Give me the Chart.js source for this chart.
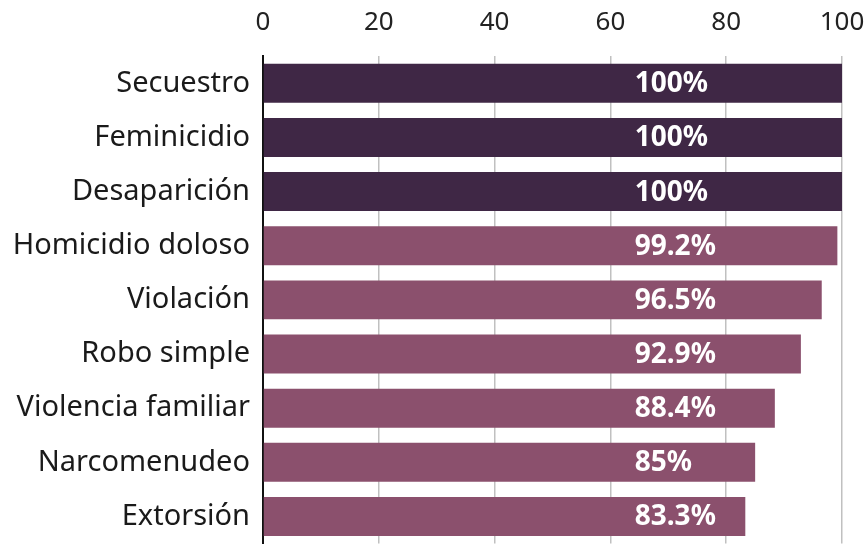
<!DOCTYPE html>
<html>
<head>
<meta charset="utf-8">
<script src="https://cdn.jsdelivr.net/npm/chart.js@4"></script>
<style>
  html, body { margin: 0; padding: 0; background: #fff; }
  #wrap { width: 866px; height: 545px; }
</style>
</head>
<body>
<div id="wrap"><canvas id="chart"></canvas></div>
<script>
const categories = [
  'Secuestro',
  'Feminicidio',
  'Desaparición',
  'Homicidio doloso',
  'Violación',
  'Robo simple',
  'Violencia familiar',
  'Narcomenudeo',
  'Extorsión',
];
const values = [100, 100, 100, 99.2, 96.5, 92.9, 88.4, 85, 83.3];
const xTicks = [0, 20, 40, 60, 80, 100];

const dark = '#3f2745';
const mauve = '#8b506d';
const labelAt = 64.2; // value position where the % labels start

const fontFamily = '"Noto Sans", sans-serif';

const barLabels = {
  id: 'barLabels',
  afterDatasetsDraw(chart) {
    const { ctx, scales: { x } } = chart;
    const meta = chart.getDatasetMeta(0);
    ctx.save();
    ctx.fillStyle = '#fff';
    ctx.font = `bold 28px ${fontFamily}`;
    ctx.textAlign = 'left';
    ctx.textBaseline = 'middle';
    meta.data.forEach((bar, i) => {
      ctx.fillText(`${values[i]}%`, x.getPixelForValue(labelAt), bar.y + 1);
    });
    ctx.restore();
  },
};

new Chart(document.getElementById('chart'), {
  type: 'bar',
  data: {
    labels: categories,
    datasets: [
      {
        data: values,
        backgroundColor: (c) => (c.raw === 100 ? dark : mauve),
        borderWidth: 0,
        categoryPercentage: 1,
        barPercentage: 0.72,
      },
    ],
  },
  options: {
    indexAxis: 'y',
    responsive: true,
    maintainAspectRatio: false,
    animation: false,
    layout: { padding: { top: 7, right: 24, bottom: 0, left: 0 } },
    plugins: {
      legend: { display: false },
      tooltip: { enabled: false },
    },
    scales: {
      x: {
        position: 'top',
        min: 0,
        max: 100,
        afterBuildTicks: (s) => {
          s.ticks = xTicks.map((v) => ({ value: v }));
        },
        grid: {
          color: '#c0c0c0',
          lineWidth: 1.5,
          drawTicks: true,
          tickLength: 18,
          tickColor: 'rgba(0,0,0,0)',
        },
        border: { display: false },
        ticks: {
          color: '#222',
          padding: 0,
          font: { family: fontFamily, size: 26 },
        },
      },
      y: {
        afterFit: (s) => {
          s.width = 263;
        },
        grid: {
          display: true,
          drawOnChartArea: false,
          drawTicks: true,
          tickLength: 13,
          tickColor: 'rgba(0,0,0,0)',
        },
        border: { display: true, color: '#111', width: 2 },
        ticks: {
          color: '#1a1a1a',
          padding: 0,
          font: { family: fontFamily, size: 29, lineHeight: 0.1 },
        },
      },
    },
  },
  plugins: [barLabels],
});
</script>
</body>
</html>
